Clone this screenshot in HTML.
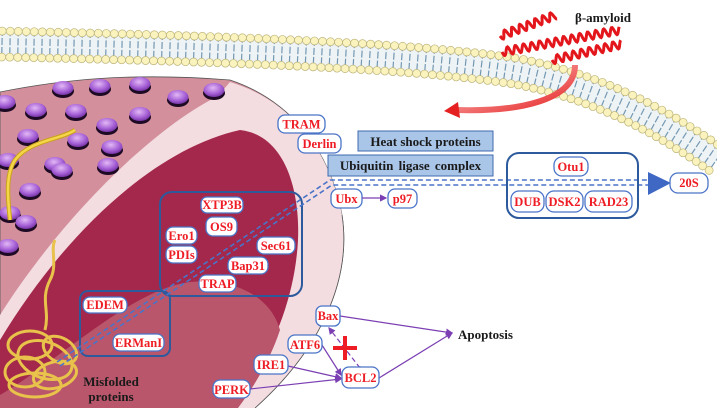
<!DOCTYPE html>
<html><head><meta charset="utf-8"><style>
html,body{margin:0;padding:0;background:#fff;width:717px;height:408px;overflow:hidden}
svg{display:block}
.b{fill:#fff;stroke:#4a74c8;stroke-width:1.3}
.t{font-family:"Liberation Serif",serif;font-weight:bold;font-size:12.5px;fill:#ee1c24;text-anchor:middle}
.k{font-family:"Liberation Serif",serif;font-weight:bold;font-size:13px;fill:#1a1a1a}
.ar{stroke:#7b3fb3;stroke-width:1.2;fill:none}
</style></head><body>
<svg id="s" width="717" height="408" viewBox="0 0 717 408" xmlns="http://www.w3.org/2000/svg">
<defs>
<marker id="m" markerWidth="6" markerHeight="6" refX="5" refY="3" orient="auto"><path d="M0,0 L6,3 L0,6 z" fill="#7b3fb3"/></marker>
<radialGradient id="sp" cx="0.45" cy="0.35" r="0.7"><stop offset="0" stop-color="#e2b8f5"/><stop offset="0.6" stop-color="#a55fd6"/><stop offset="1" stop-color="#6b2c99"/></radialGradient>
<linearGradient id="ra" x1="0" y1="0" x2="1" y2="1"><stop offset="0" stop-color="#ffd0d0"/><stop offset="1" stop-color="#e52020"/></linearGradient>
</defs>
<g id="mem"></g>
<path d="M0,92 C60,80 130,72 230,80 C290,100 330,150 342,215 C352,280 320,350 255,408 L0,408 Z" fill="#d3909c" stroke="#555" stroke-width="0.8"/>
<path d="M218,96 C150,130 60,220 0,315 L0,408 L255,408 C320,350 352,280 342,215 C330,150 290,100 230,82 Z" fill="#f3dde1"/>
<path d="M0,340 C60,240 150,150 240,130 C285,135 300,190 298,240 C295,300 270,360 232,408 L0,408 Z" fill="#a3284b"/>
<path d="M0,395 C60,360 130,290 190,282 C240,278 272,300 280,330 C270,360 255,385 238,408 L0,408 Z" fill="#b9566b"/>
<path d="M255,408 C320,350 352,280 342,215" fill="none" stroke="#555" stroke-width="0.8"/>
<g id="sph"></g>
<path d="M75,130 C60,140 30,140 15,160 C5,175 8,200 10,220" fill="none" stroke="#c9a21a" stroke-width="4.5"/>
<path d="M75,130 C60,140 30,140 15,160 C5,175 8,200 10,220" fill="none" stroke="#f5d54a" stroke-width="2.5"/>
<g fill="none" stroke="#e8c24a" stroke-width="3">
<ellipse cx="30" cy="345" rx="22" ry="14"/><ellipse cx="45" cy="360" rx="28" ry="18" transform="rotate(20 45 360)"/>
<ellipse cx="25" cy="372" rx="20" ry="15"/><ellipse cx="55" cy="375" rx="22" ry="13" transform="rotate(-15 55 375)"/>
<ellipse cx="35" cy="385" rx="26" ry="12"/><path d="M45,330 C50,310 40,300 50,280 C58,265 50,250 55,240"/>
<ellipse cx="60" cy="350" rx="18" ry="12" transform="rotate(30 60 350)"/>
</g>
<rect x="160" y="192" width="142" height="104" rx="12" fill="none" stroke="#2d5a9c" stroke-width="2"/>
<rect x="80" y="291" width="90" height="65" rx="8" fill="none" stroke="#2d5a9c" stroke-width="2"/>
<g stroke="#4a74c8" stroke-width="1.6" stroke-dasharray="5,3" fill="none">
<path d="M57,362 L330,180 L650,180"/><path d="M60,366 L332,185 L650,185"/>
</g>
<path d="M648,172 L671,183 L648,195 Z" fill="#3f68c4"/>
<g>
<rect class="b" x="278" y="115" width="47" height="18" rx="7"/><text class="t" x="301.5" y="128.5">TRAM</text>
<rect class="b" x="298" y="134" width="43" height="19" rx="7"/><text class="t" x="319.5" y="148">Derlin</text>
<rect x="358" y="131" width="135" height="20" fill="#a9c5e8" stroke="#3f6aae"/><text class="k" x="425.5" y="146" text-anchor="middle">Heat shock proteins</text>
<rect x="328" y="155" width="165" height="21" fill="#a9c5e8" stroke="#3f6aae"/><text class="k" x="410.5" y="170" text-anchor="middle" style="word-spacing:2px">Ubiquitin ligase complex</text>
<rect class="b" x="331" y="189" width="31" height="19" rx="7"/><text class="t" x="346.5" y="203">Ubx</text>
<rect class="b" x="388" y="189" width="29" height="19" rx="7"/><text class="t" x="402.5" y="203">p97</text>
<line class="ar" x1="362" y1="198" x2="386" y2="198" marker-end="url(#m)"/>
<rect x="507" y="153" width="131" height="65" rx="12" fill="none" stroke="#2d5a9c" stroke-width="2"/>
<rect class="b" x="554" y="157" width="34" height="19" rx="8"/><text class="t" x="571" y="171">Otu1</text>
<rect class="b" x="511" y="191" width="33" height="21" rx="8"/><text class="t" x="527.5" y="206">DUB</text>
<rect class="b" x="546" y="191" width="37" height="21" rx="8"/><text class="t" x="564.5" y="206">DSK2</text>
<rect class="b" x="585" y="191" width="47" height="21" rx="8"/><text class="t" x="608.5" y="206">RAD23</text>
<rect class="b" x="670" y="173" width="38" height="20" rx="8"/><text class="t" x="689" y="187">20S</text>
<rect class="b" x="201" y="197" width="42" height="16" rx="6"/><text class="t" x="222" y="209">XTP3B</text>
<rect class="b" x="206" y="217" width="31" height="19" rx="7"/><text class="t" x="221.5" y="231">OS9</text>
<rect class="b" x="166" y="227" width="31" height="17" rx="7"/><text class="t" x="181.5" y="240">Ero1</text>
<rect class="b" x="166" y="246" width="31" height="17" rx="7"/><text class="t" x="181.5" y="259">PDIs</text>
<rect class="b" x="257" y="237" width="38" height="17" rx="7"/><text class="t" x="276" y="250">Sec61</text>
<rect class="b" x="228" y="257" width="40" height="17" rx="7"/><text class="t" x="248" y="270">Bap31</text>
<rect class="b" x="199" y="275" width="37" height="17" rx="7"/><text class="t" x="217.5" y="288">TRAP</text>
<rect class="b" x="83" y="297" width="44" height="16" rx="7"/><text class="t" x="105" y="309">EDEM</text>
<rect class="b" x="113" y="334" width="51" height="17" rx="7"/><text class="t" x="138.5" y="347">ERManI</text>
<text class="k" x="111" y="386" text-anchor="middle">Misfolded</text>
<text class="k" x="111" y="401" text-anchor="middle">proteins</text>
<line class="ar" x1="340" y1="316" x2="452" y2="333" marker-end="url(#m)"/>
<line class="ar" x1="379" y1="378" x2="452" y2="333" marker-end="url(#m)"/>
<line class="ar" x1="288" y1="366" x2="341" y2="378" marker-end="url(#m)"/>
<line class="ar" x1="250" y1="389" x2="341" y2="379" marker-end="url(#m)"/>
<line class="ar" x1="322" y1="345" x2="341" y2="375" marker-end="url(#m)"/>
<line class="ar" x1="360" y1="368" x2="329" y2="328" stroke-dasharray="5,3" marker-end="url(#m)"/>
<circle cx="360" cy="368" r="1.8" fill="#7b3fb3"/>
<rect class="b" x="316" y="306" width="24" height="20" rx="6"/><text class="t" x="328" y="320">Bax</text>
<rect class="b" x="288" y="335" width="34" height="18" rx="7"/><text class="t" x="305" y="349">ATF6</text>
<rect class="b" x="254" y="355" width="34" height="19" rx="7"/><text class="t" x="271" y="369">IRE1</text>
<rect class="b" x="213" y="380" width="37" height="18" rx="7"/><text class="t" x="231.5" y="394">PERK</text>
<rect class="b" x="342" y="367" width="37" height="21" rx="7"/><text class="t" x="360.5" y="382">BCL2</text>
<path d="M345,336 V360 M333,348 H357" stroke="#ee1c24" stroke-width="4"/>
<text class="k" x="458" y="339">Apoptosis</text>
</g>
<g id="hel" fill="none" stroke="#e3161c" stroke-width="3"></g>
<path d="M575,65 C575,100 520,112 456,110" fill="none" stroke="url(#ra)" stroke-width="6"/>
<path d="M458,102 L444,111 L460,118 Z" fill="#e52020"/>
<text class="k" x="575" y="22">β-amyloid</text>
</svg>
<script>
var NS="http://www.w3.org/2000/svg",s=document.getElementById('s');
function el(t,a,p){var e=document.createElementNS(NS,t);for(var k in a)e.setAttribute(k,a[k]);p.appendChild(e);return e;}
var mem=document.getElementById('mem');
var c=el('path',{d:"M0,44 C200,48 420,55 520,72 C600,88 660,120 717,160",fill:"none",stroke:"#eef3f6","stroke-width":28},mem);
var L=c.getTotalLength();
for(var l=2;l<L;l+=8){var p=c.getPointAtLength(l),q=c.getPointAtLength(Math.min(L,l+1)),dx=q.x-p.x,dy=q.y-p.y,n=Math.hypot(dx,dy)||1,nx=-dy/n,ny=dx/n;
el('line',{x1:p.x+nx*10,y1:p.y+ny*10,x2:p.x-nx*10,y2:p.y-ny*10,stroke:"#7398b2","stroke-width":1.2,"stroke-dasharray":"7,2"},mem);
el('circle',{cx:p.x+nx*13,cy:p.y+ny*13,r:4,fill:"#fbf3bd",stroke:"#bdb47a","stroke-width":0.7},mem);
el('circle',{cx:p.x-nx*13,cy:p.y-ny*13,r:4,fill:"#fbf3bd",stroke:"#bdb47a","stroke-width":0.7},mem);}
var sp=document.getElementById('sph');
[[63,88],[100,86],[140,84],[178,97],[214,90],[5,102],[36,110],[76,111],[107,125],[140,114],[28,136],[78,140],[112,147],[55,164],[108,165],[8,160],[30,190],[10,213],[26,222],[8,246],[62,170]].forEach(function(a){
el('ellipse',{cx:a[0],cy:a[1]+3,rx:11,ry:7,fill:"#1e0a24"},sp);el('ellipse',{cx:a[0],cy:a[1],rx:10.5,ry:7,fill:"url(#sp)"},sp);});
var h=document.getElementById('hel');
[[500,36,556,15],[502,52,620,30],[552,60,622,44]].forEach(function(a){var d="",N=Math.hypot(a[2]-a[0],a[3]-a[1]),ux=(a[2]-a[0])/N,uy=(a[3]-a[1])/N;
for(var t=0;t<=N;t+=0.7){var w=Math.sin(t/1.3)*4;d+=(t?"L":"M")+(a[0]+ux*t-uy*w).toFixed(1)+","+(a[1]+uy*t+ux*w).toFixed(1);}el('path',{d:d},h);});
</script>
</body></html>
